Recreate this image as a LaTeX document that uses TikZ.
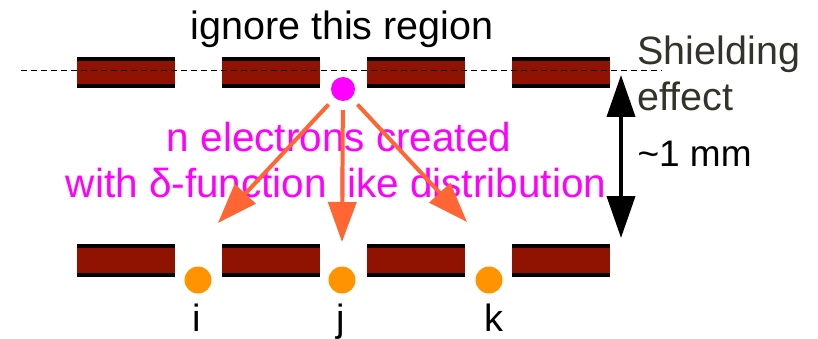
\documentclass[tikz,border=0pt]{standalone}
\usepackage{fontspec}
\setmainfont{Liberation Sans}
\usetikzlibrary{arrows.meta}
\definecolor{barred}{RGB}{144,18,0}
\definecolor{dotorange}{RGB}{255,148,0}
\definecolor{arrorange}{RGB}{255,102,51}
\definecolor{shieldgray}{RGB}{51,51,41}
\definecolor{pinkish}{RGB}{255,0,255}
\tikzset{
  txt/.style={anchor=base,font=\fontsize{38}{44}\selectfont},
  msg/.style={anchor=base,text=pinkish,font=\fontsize{40.5}{45}\selectfont},
  electron/.style={circle,fill=dotorange,minimum size=27pt,inner sep=0pt},
  source/.style={circle,fill=pinkish,minimum size=24pt,inner sep=0pt},
  drift/.style={draw=arrorange,line width=4pt,shorten <=9pt,-{Triangle[length=40pt,width=28pt]}},
  gap/.style={line width=4pt,{Triangle[length=42pt,width=28pt]}-{Triangle[length=42pt,width=28pt]}}
}
\begin{document}
\begin{tikzpicture}[x=1pt,y=-1pt]
  \useasboundingbox (0,0) rectangle (818,339);
  \foreach \x in {77,222,367,512} {
      \fill[black] (\x,57) rectangle +(98,31);
      \fill[barred] (\x,61) rectangle +(98,23);
      \fill[black] (\x,244) rectangle +(98,33);
      \fill[barred] (\x,248) rectangle +(98,25);
  }
  \draw[dash pattern=on 6pt off 4pt,line width=1pt] (21,71) -- (662,71);
  \node[txt,font=\fontsize{39.5}{44}\selectfont] (title) at (342,40) {ignore this region};
  \node[source] (src) at (343,89) {};
  \node[electron] (di) at (198,280) {};
  \node[electron] (dj) at (342,280) {};
  \node[electron] (dk) at (489,280) {};
  \node[txt] (li) at (197,331) {i};
  \node[txt] (lj) at (341,331) {j};
  \node[txt] (lk) at (494,331) {k};
  \node[msg] (msg1) at (339,152) {n electrons created};
  \node[msg] (msg2) at (336,197) {with δ-function like distribution};
  \coordinate (ti) at (218,223);
  \coordinate (tj) at (342,242);
  \coordinate (tk) at (467,222);
  \draw[drift] (src) -- (ti);
  \draw[drift] (src) -- (tj);
  \draw[drift] (src) -- (tk);
  \coordinate (gtop) at (621,75);
  \coordinate (gbot) at (621,238);
  \draw[gap] (gtop) -- (gbot);
  \node[txt,anchor=base west,text=shieldgray,font=\fontsize{39.5}{44}\selectfont] (shield1) at (634,65) {Shielding};
  \node[txt,anchor=base west,text=shieldgray,font=\fontsize{39.5}{44}\selectfont] (shield2) at (634,111) {effect};
  \node[txt,anchor=base west,font=\fontsize{37}{44}\selectfont] (dist) at (634,167) {\textasciitilde 1 mm};
\end{tikzpicture}
\end{document}
